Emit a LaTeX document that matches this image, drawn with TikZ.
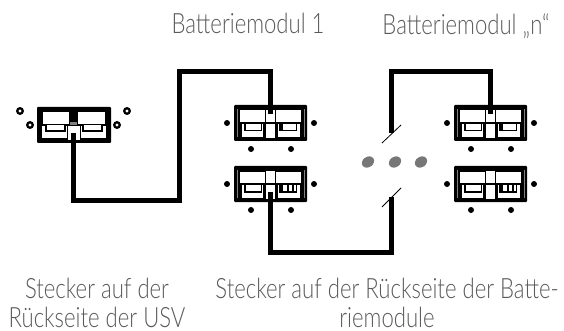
\documentclass[tikz,border=0pt]{standalone}
\usepackage{fontspec}
\setmainfont[FakeStretch=0.79,UprightFont=* Light]{Lato}
\usepackage{tikz}

\definecolor{labelgray}{HTML}{5a5a5a}
\definecolor{dotgray}{HTML}{777777}

\tikzset{
  modbox/.style={fill=black, rounded corners=1pt, inner sep=0pt,
    minimum width=73pt, minimum height=36pt},
  cable/.style={line width=5pt, line join=miter},
  slash/.style={line width=0.8pt},
  caption/.style={text=labelgray, font=\fontsize{28}{29}\selectfont, anchor=base, align=center, inner sep=0pt},
}

% name, left, top, bars in the right strip
\newcommand{\batmodule}[4]{
  \begin{scope}[shift={(#2,#3)}]
    \node[modbox] (#1) at (36.5,18) {};
    \fill[white] (6,5.5) rectangle (31,17);
    \fill[white] (42,5.5) rectangle (67,17);
    \fill[white] (32,5) rectangle (41,17);
    \fill[white] (32,19) rectangle (41,33);
    \fill[white] (8,19) rectangle (29,32);
    \fill[white] (44,19) rectangle (66,32);
    \fill[black] (10,18) rectangle (28,26.5);
    \fill[black] (45,18) rectangle (63,26.5);
    \fill[white] (11.5,19) rectangle (27,25);
    \fill[white] (46.5,19) rectangle (62,25);
    \foreach \barx in {#4} {\fill[black] (\barx,19) rectangle +(2,6);}
    \draw[gray, line width=0.6pt] (3,4) -- (3,32);
    \draw[gray, line width=0.6pt] (70,4) -- (70,32);
    \fill (-7,18) circle (3);
    \fill (80,18) circle (3);
    \fill (17,44) circle (3);
    \fill (57,44) circle (3);
    \coordinate (#1-in) at (36,9);
    \coordinate (#1-out) at (36,26);
  \end{scope}
}

\begin{document}
\begin{tikzpicture}[x=1pt, y=-1pt]
  \useasboundingbox (0,0) rectangle (564,331);

  % Left: plug on the UPS
  \node[modbox, minimum width=74pt] (usv) at (74,125) {};
  \fill[white] (43,112) rectangle (69,124);
  \fill[white] (78,112) rectangle (105,124);
  \fill[white] (42,126) rectangle (67,138);
  \fill[white] (81,126) rectangle (106,138);
  \fill[black] (45,124) rectangle (66,132);
  \fill[black] (82,124) rectangle (103,132);
  \fill[white] (47,125.5) rectangle (64,130.5);
  \fill[white] (84,125.5) rectangle (101,130.5);
  \fill[white] (68,126) rectangle (80,140);
  \fill[gray] (70,122) rectangle (77,125);
  \coordinate (usv-out) at (73,133);
  \foreach \hx/\hy in {20/111, 30/125, 127/111, 117/125} {
    \fill (\hx,\hy) circle (4);
    \fill[white] (\hx,\hy) circle (1.6);
  }

  % Modules
  \batmodule{upone}{234}{105}{47}
  \batmodule{lowone}{234}{166}{47,53,58}
  \batmodule{upn}{454}{105}{47}
  \batmodule{lown}{454}{166}{47,53,58}

  % Cut in the chain
  \coordinate (cuttop) at (391,133);
  \coordinate (cutlow) at (391,197);
  \draw[cable] (usv-out) -- (73,200) -- (179,200) -- (179,72) -- (270,72) -- (upone-in);
  \draw[cable] (lowone-out) -- (270,252) -- (391,252) -- (cutlow);
  \draw[cable] (cuttop) -- (391,72) -- (490,72) -- (upn-in);
  \draw[slash] (382,143) -- (401,125);
  \draw[slash] (382,207) -- (401,188);

  \foreach \dotx in {368,395,421} {
    \fill[dotgray, rotate around={35:(\dotx,162)}] (\dotx,162) ellipse (6.5 and 5.2);
  }

  % Labels
  \node[caption] (modone) at (248,34) {Batteriemodul 1};
  \node[caption] (modn) at (466,35) {Batteriemodul „n“};
  \node[caption] (usvtxt) at (97,327) {Stecker auf der\\Rückseite der USV};
  \node[caption] (modtxt) at (387,327) {Stecker auf der Rückseite der Batte-\\riemodule};
\end{tikzpicture}
\end{document}
